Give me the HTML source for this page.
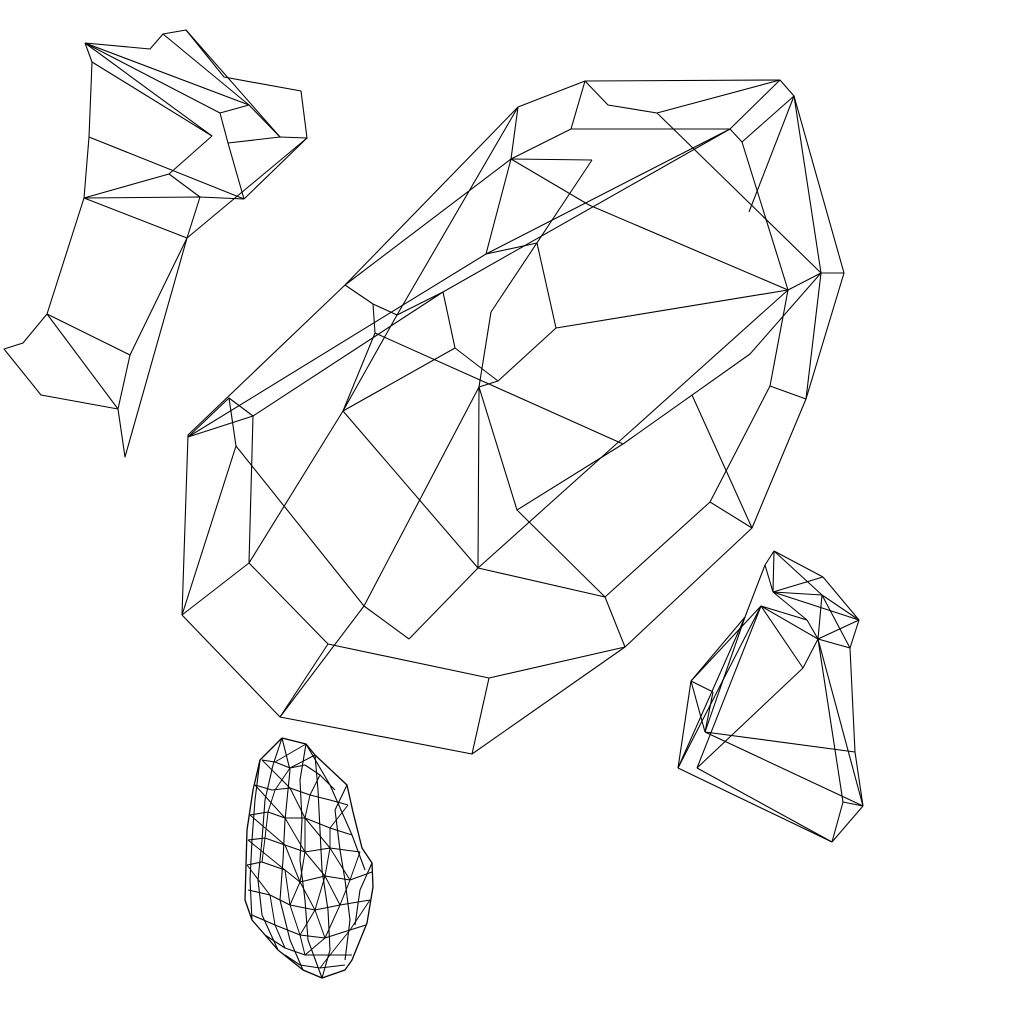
<!DOCTYPE html>
<html><head><meta charset="utf-8"><style>
html,body{margin:0;padding:0;background:#fff;}
svg{display:block;}
</style></head><body>
<svg id="chart" width="1024" height="1024" viewBox="0 0 1024 1024" xmlns="http://www.w3.org/2000/svg">
<g id="big"></g>
<g id="left"></g>
<g id="right"></g>
<g id="blob"></g>
</svg>
<script>
const bigLines = [
 [[182,615],[188,435],[345,285],[518,107],[585,81],[780,80],[794,96],[844,273],[806,399],[752,528],[625,647],[472,754],[280,717],[182,615]],
 [[188,437],[253,416],[249,563],[182,615]],
 [[188,437],[229,398],[236,446],[182,615]],
 [[236,446],[364,606],[409,639]],
 [[249,563],[328,644],[280,717]],
 [[328,644],[489,678],[472,754]],
 [[489,678],[625,647]],
 [[409,639],[478,568],[605,597],[625,647]],
 [[605,597],[710,502],[752,528]],
 [[710,502],[770,386],[806,399]],
 [[770,386],[788,290],[821,273],[806,399]],
 [[788,290],[742,142],[730,129],[780,80]],
 [[730,129],[571,129],[585,81]],
 [[742,142],[794,96],[821,273],[844,273]],
 [[794,96],[749,212]],
 [[518,107],[511,159],[571,129]],
 [[511,159],[592,160]],
 [[585,81],[608,105],[657,113],[780,80]],
 [[657,113],[821,273]],
 [[592,160],[491,312],[479,387]],
 [[486,254],[730,129]],
 [[511,159],[486,254],[537,243],[556,328],[788,290]],
 [[511,159],[589,205],[788,290]],
 [[556,328],[498,381],[455,348],[443,292],[397,315]],
 [[730,129],[443,292]],
 [[345,285],[373,304],[397,315]],
 [[373,304],[375,333],[343,411]],
 [[375,333],[623,444]],
 [[343,411],[455,348]],
 [[343,411],[478,568]],
 [[343,411],[397,315],[518,107]],
 [[249,563],[343,411]],
 [[364,606],[280,717]],
 [[498,381],[479,387],[517,510],[605,597]],
 [[517,510],[623,444],[750,354],[821,273]],
 [[478,568],[788,290]],
 [[479,387],[478,568]],
 [[479,387],[364,606]],
 [[692,395],[752,528]],
 [[188,437],[486,254]],
 [[253,416],[443,292]],
 [[345,285],[511,159]],
 [[229,398],[253,416]]
];
const leftLines = [
 [[85,43],[150,49],[163,34],[186,30],[224,77],[301,91],[307,138],[244,199]],
 [[85,43],[92,62],[89,137],[84,198],[47,314],[23,343],[4,349],[41,395],[118,409],[125,457],[187,238],[200,197]],
 [[47,314],[130,355],[118,409]],
 [[47,314],[118,409]],
 [[130,355],[187,238]],
 [[84,198],[187,238]],
 [[84,198],[200,197],[244,199]],
 [[84,198],[169,174],[212,136]],
 [[89,137],[244,199]],
 [[169,174],[200,197]],
 [[92,62],[212,136]],
 [[85,43],[220,113]],
 [[85,43],[249,105]],
 [[163,34],[249,105],[280,137]],
 [[186,30],[280,137]],
 [[220,113],[249,105]],
 [[220,113],[228,143],[280,137],[307,138]],
 [[228,143],[244,199]],
 [[187,238],[307,138]],
 [[85,43],[212,136]]
];
const rightVerts = {R1:[774,551],R2:[823,577],R3:[859,620],R4:[850,648],R5:[855,752],R6:[863,806],R7:[832,842],R8:[678,768],R9:[691,681],R10:[745,617],R11:[773,592],R12:[822,595],R13:[761,606],R14:[807,620],R15:[818,639],R16:[803,668],R17:[705,732],R18:[697,768],R19:[843,802],R20:[713,692],R21:[765,565]};
const rightEdges = ["R1-R2","R2-R3","R3-R4","R4-R5","R5-R6","R6-R7","R7-R8","R8-R9","R9-R10","R10-R21","R21-R1","R9-R13","R1-R11","R1-R12","R11-R2","R11-R12","R11-R3","R12-R3","R12-R15","R14-R15","R15-R3","R15-R4","R13-R14","R13-R15","R13-R16","R16-R15","R16-R18","R15-R6","R15-R19","R17-R5","R17-R6","R17-R9","R17-R20","R9-R20","R18-R7","R8-R10","R8-R13","R18-R13","R19-R6","R19-R7","R17-R10","R11-R14","R21-R11","R12-R4"];
const blobOutline = [[282,738],[306,744],[315,755],[347,785],[353,812],[362,848],[372,863],[373,887],[367,923],[352,960],[345,970],[322,978],[303,970],[278,950],[252,920],[245,900],[247,830],[253,790],[260,760],[282,738]];
const blobRows = [
 [[262,760],[275,762],[290,768],[305,765],[320,775],[335,790]],
 [[255,785],[272,790],[290,788],[310,795],[330,800],[348,805]],
 [[250,815],[268,812],[285,818],[305,818],[330,828],[352,835]],
 [[248,840],[265,838],[285,845],[305,852],[330,848],[360,852]],
 [[247,865],[262,862],[285,870],[300,882],[325,876],[350,880],[372,872]],
 [[248,890],[270,895],[290,905],[315,910],[340,905],[370,900]],
 [[252,915],[275,925],[300,935],[325,938],[350,930],[366,925]],
 [[265,935],[285,948],[305,955],[330,955],[352,955]],
 [[285,955],[300,965],[320,968],[345,965]]
];
const blobCols = [
 [[282,738],[273,765],[265,800],[262,840],[258,880],[262,915],[278,950]],
 [[282,738],[290,770],[285,820],[283,860],[280,900],[290,940],[303,970]],
 [[306,744],[300,780],[302,820],[300,860],[305,900],[308,940],[322,978]],
 [[315,755],[318,790],[320,830],[322,870],[328,910],[330,950],[322,978]],
 [[347,785],[335,810],[340,850],[345,880],[350,920],[345,960]],
 [[260,760],[255,800],[252,840],[250,880],[252,920]],
 [[306,744],[330,785],[352,835],[365,870]],
 [[372,863],[360,890],[355,925]]
];
const blobDiags = [
 [[262,760],[290,788],[305,818],[330,848],[350,880]],
 [[255,785],[285,818],[305,852],[325,876],[340,905]],
 [[250,815],[285,845],[300,882],[315,910],[325,938]],
 [[248,840],[285,870],[290,905],[300,935],[305,955]],
 [[247,865],[270,895],[275,925],[285,948]],
 [[290,768],[275,790],[268,812],[265,838],[262,862]],
 [[320,775],[310,795],[305,818],[305,852],[300,882],[290,905]],
 [[348,805],[330,828],[330,848],[325,876],[315,910],[300,935]],
 [[360,852],[350,880],[340,905],[325,938],[305,955]],
 [[370,900],[350,930],[330,955],[320,968]],
 [[275,762],[306,744]],
 [[290,768],[315,755]]
];
const NS="http://www.w3.org/2000/svg";
function addLine(g, pts, w){
  const p=document.createElementNS(NS,'polyline');
  p.setAttribute('points', pts.map(q=>q[0]+','+q[1]).join(' '));
  p.setAttribute('fill','none');
  p.setAttribute('stroke','#000');
  p.setAttribute('stroke-width', w);
  p.setAttribute('stroke-linejoin','round');
  
  
  g.appendChild(p);
}
const gBig=document.getElementById('big');
bigLines.forEach(l=>addLine(gBig,l,1.1));
const gLeft=document.getElementById('left');
leftLines.forEach(l=>addLine(gLeft,l,1.1));
const gRight=document.getElementById('right');
rightEdges.forEach(e=>{const [a,b]=e.split('-');addLine(gRight,[rightVerts[a],rightVerts[b]],1.1);});
const gBlob=document.getElementById('blob');
addLine(gBlob,blobOutline,1.3);
blobRows.forEach(l=>addLine(gBlob,l,1.1));
blobCols.forEach(l=>addLine(gBlob,l,1.1));
blobDiags.forEach(l=>addLine(gBlob,l,1.0));
</script>
</body></html>
